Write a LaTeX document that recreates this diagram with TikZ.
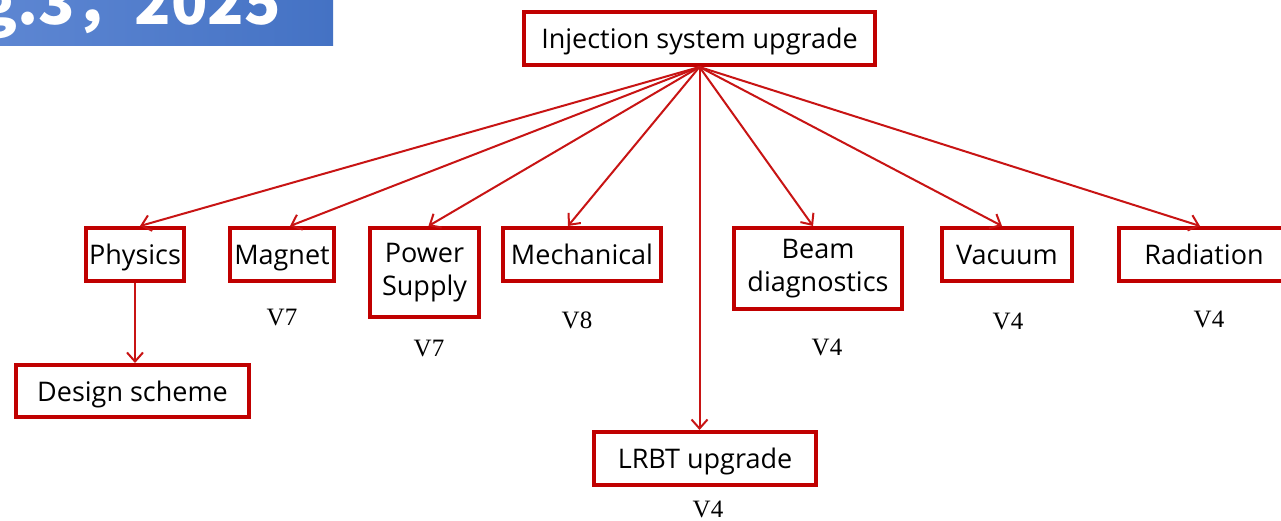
\documentclass[tikz,border=0pt]{standalone}
\usepackage{fontspec}
\usepackage{xcolor}
\usepackage{tikz}
\usetikzlibrary{arrows.meta,positioning,calc}

\newfontfamily\boxfont{Open Sans}
\newfontfamily\verfont{Liberation Serif}
\newfontfamily\bannerfont{Noto Sans CJK SC}

\definecolor{boxred}{RGB}{192,0,0}
\definecolor{arrred}{RGB}{200,20,20}
\definecolor{bannerL}{RGB}{93,134,210}
\definecolor{bannerR}{RGB}{68,114,196}

\begin{document}
\begin{tikzpicture}[
    x=1pt, y=-1pt,
    taskbox/.style={rectangle, draw=boxred, line width=4pt, inner sep=0pt, align=center, font=\boxfont\fontsize{27}{33}\selectfont, minimum height=53pt},
    onebox/.style={taskbox, text height=20pt, text depth=0pt},
    vlbl/.style={font=\verfont\fontsize{25}{29}\selectfont},
    arr/.style={draw=arrred, line width=2pt, -{Straight Barb[length=9pt,width=16pt]}}
]
\clip (0,0) rectangle (1281,521);
\fill[fill=white] (0,0) rectangle (1281,521);

% banner, cut at the top
\shade[left color=bannerL, right color=bannerR] (0,0) rectangle (333,46);
\node[anchor=base west, inner sep=0pt, text=white, font=\bannerfont\bfseries\fontsize{60}{64}\selectfont] (banner) at (-20,25) {g.3，2025};

\node[onebox, minimum width=351pt] (top) at (699.5,38.5) {Injection system upgrade};

\node[onebox, minimum width=98pt] (phys) at (135,254.5) {Physics};
\node[onebox, minimum width=104pt] (magnet) at (282,254.5) {Magnet};
\node[taskbox, minimum width=109pt, minimum height=89pt] (power) at (424.5,272.5) {Power\\Supply};
\node[onebox, minimum width=158pt] (mech) at (582,254.5) {Mechanical};
\node[taskbox, minimum width=168pt, minimum height=81pt] (beam) at (818,268.5) {Beam\\diagnostics};
\node[onebox, minimum width=130pt] (vac) at (1007,254.5) {Vacuum};
\node[onebox, minimum width=170pt] (rad) at (1204,254.5) {Radiation};
\node[onebox, minimum width=233pt, minimum height=52pt] (design) at (132.5,391) {Design scheme};
\node[onebox, minimum width=222pt] (lrbt) at (705,458.5) {LRBT upgrade};

\node[vlbl] (vmag) at (282,318) {V7};
\node[vlbl] (vpow) at (429,349) {V7};
\node[vlbl] (vmech) at (577,320) {V8};
\node[vlbl] (vbeam) at (827,347) {V4};
\node[vlbl] (vvac) at (1008,321) {V4};
\node[vlbl] (vrad) at (1209,319) {V4};
\node[vlbl] (vlrbt) at (708,509) {V4};

\draw[arr] (top.south) -- ($(phys.north)+(5,0)$);
\draw[arr] (top.south) -- ($(magnet.north)+(8,0)$);
\draw[arr] (top.south) -- ($(power.north)+(4,0)$);
\draw[arr] (top.south) -- ($(mech.north)+(-14,0)$);
\draw[arr] (top.south) -- ($(beam.north)+(-5,0)$);
\draw[arr] (top.south) -- ($(vac.north)+(-5,0)$);
\draw[arr] (top.south) -- ($(rad.north)+(-4,0)$);
\draw[arr] (top.south) -- (top.south |- lrbt.north);
\draw[arr] (phys.south) -- (phys.south |- design.north);
\end{tikzpicture}
\end{document}
